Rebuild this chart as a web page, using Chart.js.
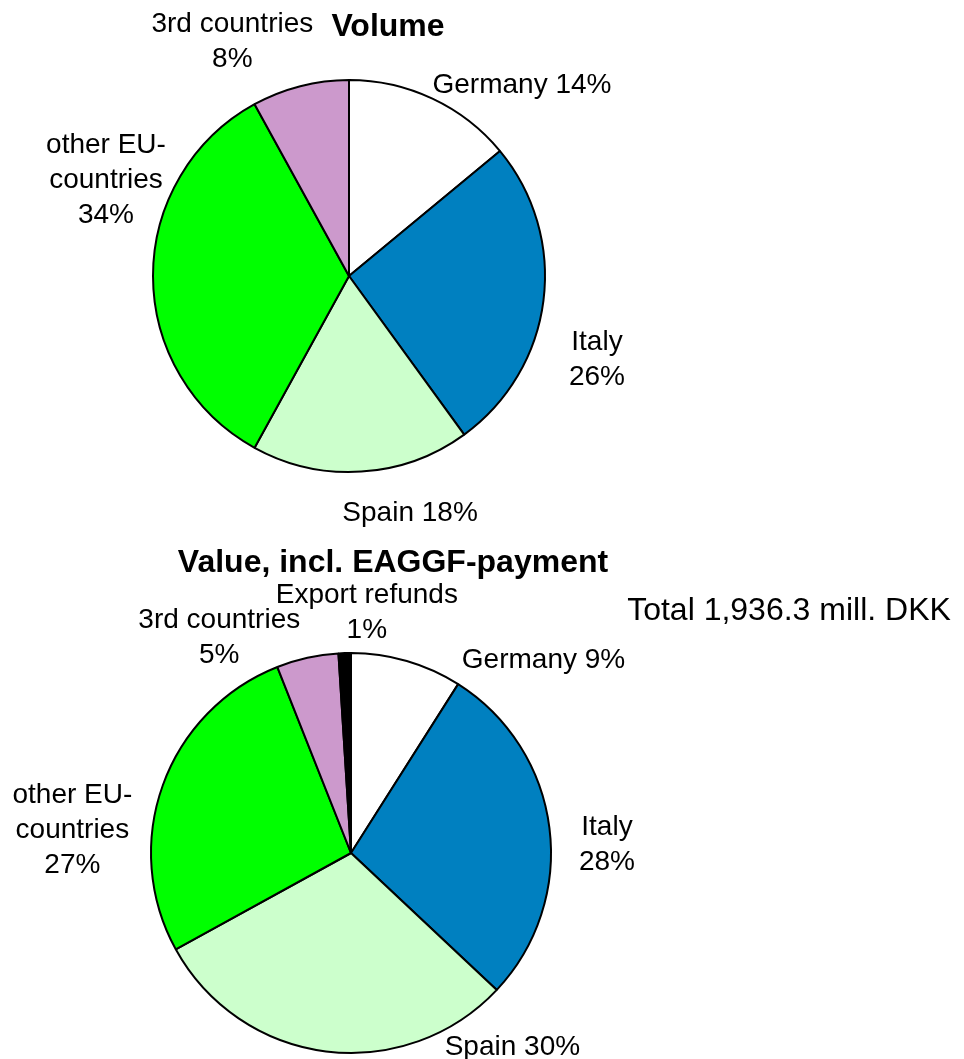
<!DOCTYPE html>
<html>
<head>
<meta charset="utf-8">
<script src="https://cdn.jsdelivr.net/npm/chart.js@4.4.1/dist/chart.umd.min.js"></script>
<style>
  html, body { margin: 0; padding: 0; background: #fff; }
  #wrap { position: relative; width: 964px; height: 1059px; }
  canvas { position: absolute; left: 0; }
  #volume { top: 0; }
  #value { top: 540px; }
</style>
</head>
<body>
<div id="wrap">
  <canvas id="volume" width="964" height="540"></canvas>
  <canvas id="value" width="964" height="519"></canvas>
</div>
<script>
// data
var categories = ['Germany', 'Italy', 'Spain', 'other EU-\ncountries', '3rd countries', 'Export refunds'];
var volumeShares = [14, 26, 18, 34, 8];
var valueShares = [9, 28, 30, 27, 5, 1];
var sliceColors = ['#ffffff', '#0080c0', '#ccffcc', '#00ff00', '#cc99cc', '#000000'];
var pctOnNewLine = [false, true, false, true, true, true];
var totalText = 'Total 1,936.3 mill. DKK';

var FONT = '"Liberation Sans", Arial, sans-serif';
var LINE_H = 35;

function labelLines(i, v) {
    var lines = categories[i].split('\n');
    if (pctOnNewLine[i]) lines.push(v + '%');
    else lines[lines.length - 1] += ' ' + v + '%';
    return lines;
}

// draws slice labels + free texts
var pieText = {
    id: 'pieText',
    afterDraw: function (chart, args, opts) {
        var c = chart.ctx;
        var meta = chart.getDatasetMeta(0);
        var vals = chart.data.datasets[0].data;
        c.save();
        c.fillStyle = '#000';
        c.textAlign = 'center';
        c.textBaseline = 'alphabetic';
        c.font = '28px ' + FONT;
        meta.data.forEach(function (arc, i) {
            var mid = (arc.startAngle + arc.endAngle) / 2;
            var rr = arc.outerRadius + 60;
            var nudge = opts.nudge[i];
            var x = arc.x + Math.cos(mid) * rr + nudge[0];
            var y = arc.y + Math.sin(mid) * rr + nudge[1];
            labelLines(i, vals[i]).forEach(function (ln, k) {
                c.fillText(ln, x, y + k * LINE_H);
            });
        });
        (opts.texts || []).forEach(function (t) {
            c.font = t.font;
            c.fillText(t.text, t.x, t.y);
        });
        c.restore();
    }
};

function pieConfig(values, pad, nudge, texts) {
    return {
        type: 'pie',
        data: {
            labels: categories.slice(0, values.length),
            datasets: [{
                data: values,
                backgroundColor: sliceColors.slice(0, values.length),
                borderColor: '#000',
                borderWidth: 2
            }]
        },
        options: {
            responsive: false,
            animation: false,
            layout: { padding: pad },
            plugins: {
                legend: { display: false },
                tooltip: { enabled: false },
                pieText: { nudge: nudge, texts: texts }
            }
        },
        plugins: [pieText]
    };
}

new Chart(document.getElementById('volume'), pieConfig(
    volumeShares,
    { left: 152, right: 418, top: 79, bottom: 67 },
    [[64, 49], [-6, 42], [45, -10], [13, -123], [-53, 4]],
    [{ text: 'Volume', x: 388, y: 36, font: 'bold 32px ' + FONT }]
));

new Chart(document.getElementById('value'), pieConfig(
    valueShares,
    { left: 150, right: 412, top: 112, bottom: 5 },
    [[120, 65], [-2, 15], [194, -56], [-34, 38], [-75, 29], [24, 10]],
    [
        { text: 'Value, incl. EAGGF-payment', x: 393, y: 32, font: 'bold 32px ' + FONT },
        { text: totalText, x: 789, y: 80, font: '32px ' + FONT }
    ]
));
</script>
</body>
</html>
